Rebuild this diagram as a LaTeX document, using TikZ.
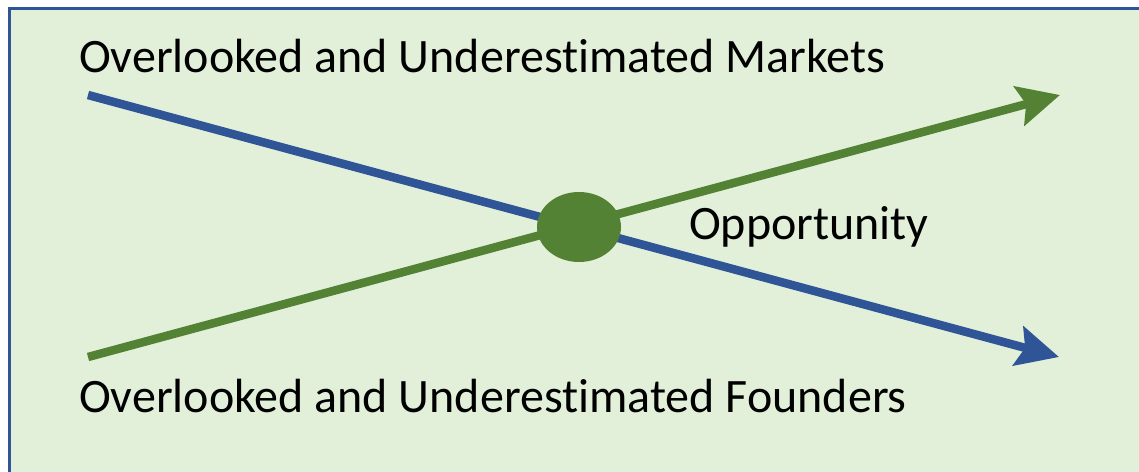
\documentclass[tikz,border=0pt]{standalone}
\usepackage{fontspec}
\setmainfont{Carlito}[RawFeature=-liga]
\usetikzlibrary{arrows.meta,shapes.geometric}
\definecolor{bgreen}{HTML}{E2F0D9}
\definecolor{dgreen}{HTML}{548235}
\definecolor{dblue}{HTML}{2F5597}
\tikzset{
  lbl/.style={anchor=base west,inner sep=0pt,font=\fontsize{48}{56}\selectfont,text=black},
  trend/.style={line width=8.5pt,-{Stealth[length=42pt,width=40pt,inset=7pt]}},
  dot/.style={ellipse,fill=dgreen,draw=none,minimum width=84pt,minimum height=70pt,inner sep=0pt}
}
\begin{document}
\begin{tikzpicture}[x=1pt,y=-1pt]
\useasboundingbox (0,0) rectangle (1139,471);
\draw[draw=dblue,fill=bgreen,line width=3pt] (9,8) rectangle (1160,490);
\coordinate (bs) at (88,95);
\coordinate (be) at (1059,357);
\coordinate (gs) at (88,357);
\coordinate (ge) at (1060,95);
\draw[trend,dblue] (bs) -- (be);
\draw[trend,dgreen] (gs) -- (ge);
\node[dot] (opp) at (579,227) {};
\node[lbl] (mk) at (79,72) {Overlooked and Underestimated Markets};
\node[lbl] (op) at (689,239) {Opportunity};
\node[lbl] (fd) at (79,412) {Overlooked and Underestimated Founders};
\end{tikzpicture}
\end{document}
